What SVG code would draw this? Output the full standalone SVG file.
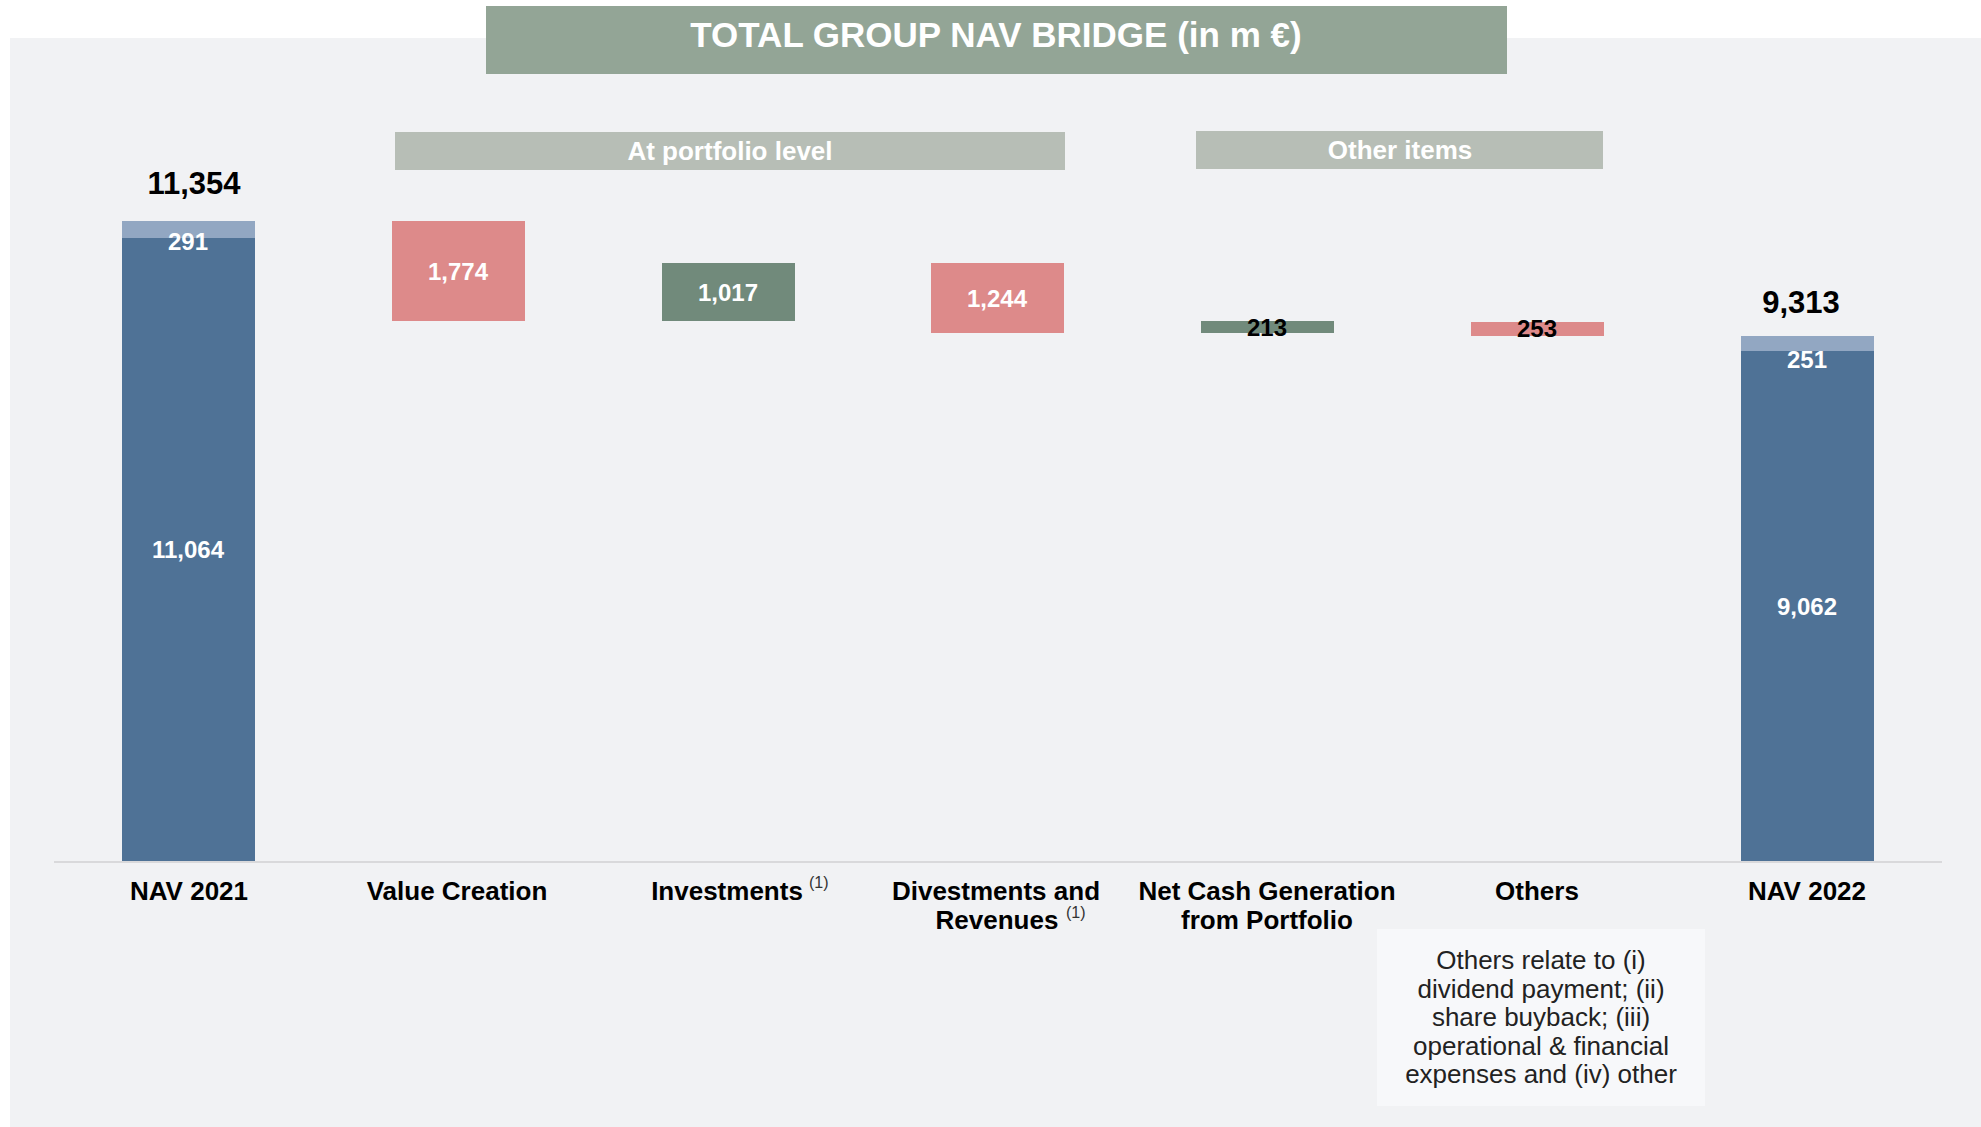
<svg xmlns="http://www.w3.org/2000/svg" width="1981" height="1127" viewBox="0 0 1981 1127">
<style>
text{font-family:"Liberation Sans",Arial,sans-serif}
.b{font-weight:bold}
.w{fill:#ffffff}
.k{fill:#000000}
.num{font-size:24px;font-weight:bold;text-anchor:middle}
.tot{font-size:31px;font-weight:bold;text-anchor:middle;fill:#000}
.cat{font-size:26px;font-weight:bold;text-anchor:middle;fill:#000}
.sup{font-size:16px;fill:#333}
.sec{font-size:26px;font-weight:bold;text-anchor:middle;fill:#fff}
.note{font-size:26px;text-anchor:middle;fill:#222}
.dark{fill:#4f7296}
.light{fill:#92a7c2}
.red{fill:#dd8a8a}
.green{fill:#718a7b}
</style>
<rect x="0" y="0" width="1981" height="1127" fill="#ffffff"/>
<rect id="panel" x="10" y="38" width="1971" height="1089" fill="#f1f2f4"/>
<g id="title">
<rect x="486" y="6" width="1021" height="68" fill="#93a596"/>
<text x="996" y="47" text-anchor="middle" class="b w" font-size="35">TOTAL GROUP NAV BRIDGE (in m €)</text>
</g>
<g id="section-portfolio">
<rect x="395" y="132" width="670" height="38" fill="#b7beb6"/>
<text x="730" y="160" class="sec">At portfolio level</text>
</g>
<g id="section-other">
<rect x="1196" y="131" width="407" height="38" fill="#b7beb6"/>
<text x="1400" y="159" class="sec">Other items</text>
</g>
<g id="axis">
<line x1="54" y1="862" x2="1942" y2="862" stroke="#d9d9db" stroke-width="2"/>
</g>
<g id="connectors"></g>
<g id="nav2021">
<rect x="122" y="221" width="133" height="17" class="light"/>
<rect x="122" y="238" width="133" height="623" class="dark"/>
<text x="194" y="194" class="tot">11,354</text>
<text x="188" y="250" class="num w">291</text>
<text x="188" y="558" class="num w">11,064</text>
<text x="189" y="900" class="cat">NAV 2021</text>
</g>
<g id="value-creation">
<rect x="392" y="221" width="133" height="100" class="red"/>
<text x="458" y="280" class="num w">1,774</text>
<text x="457" y="900" class="cat">Value Creation</text>
</g>
<g id="investments">
<rect x="662" y="263" width="133" height="58" class="green"/>
<text x="728" y="301" class="num w">1,017</text>
<text x="727" y="900" class="cat">Investments</text>
<text x="809" y="888" class="sup">(1)</text>
</g>
<g id="divestments">
<rect x="931" y="263" width="133" height="70" class="red"/>
<text x="997" y="307" class="num w">1,244</text>
<text x="996" y="900" class="cat">Divestments and</text>
<text x="997" y="929" class="cat">Revenues</text>
<text x="1066" y="918" class="sup">(1)</text>
</g>
<g id="net-cash">
<rect x="1201" y="321" width="133" height="12" class="green"/>
<text x="1267" y="336" class="num k">213</text>
<text x="1267" y="900" class="cat">Net Cash Generation</text>
<text x="1267" y="929" class="cat">from Portfolio</text>
</g>
<g id="others">
<rect x="1471" y="322" width="133" height="14" class="red"/>
<text x="1537" y="337" class="num k">253</text>
<text x="1537" y="900" class="cat">Others</text>
</g>
<g id="nav2022">
<rect x="1741" y="336" width="133" height="15" class="light"/>
<rect x="1741" y="351" width="133" height="510" class="dark"/>
<text x="1801" y="313" class="tot">9,313</text>
<text x="1807" y="368" class="num w">251</text>
<text x="1807" y="615" class="num w">9,062</text>
<text x="1807" y="900" class="cat">NAV 2022</text>
</g>
<g id="note">
<rect x="1377" y="929" width="328" height="177" fill="#f7f8fa"/>
<text x="1541" y="969" class="note">Others relate to (i)</text>
<text x="1541" y="998" class="note">dividend payment; (ii)</text>
<text x="1541" y="1026" class="note">share buyback; (iii)</text>
<text x="1541" y="1055" class="note">operational &amp; financial</text>
<text x="1541" y="1083" class="note">expenses and (iv) other</text>
</g>
</svg>
